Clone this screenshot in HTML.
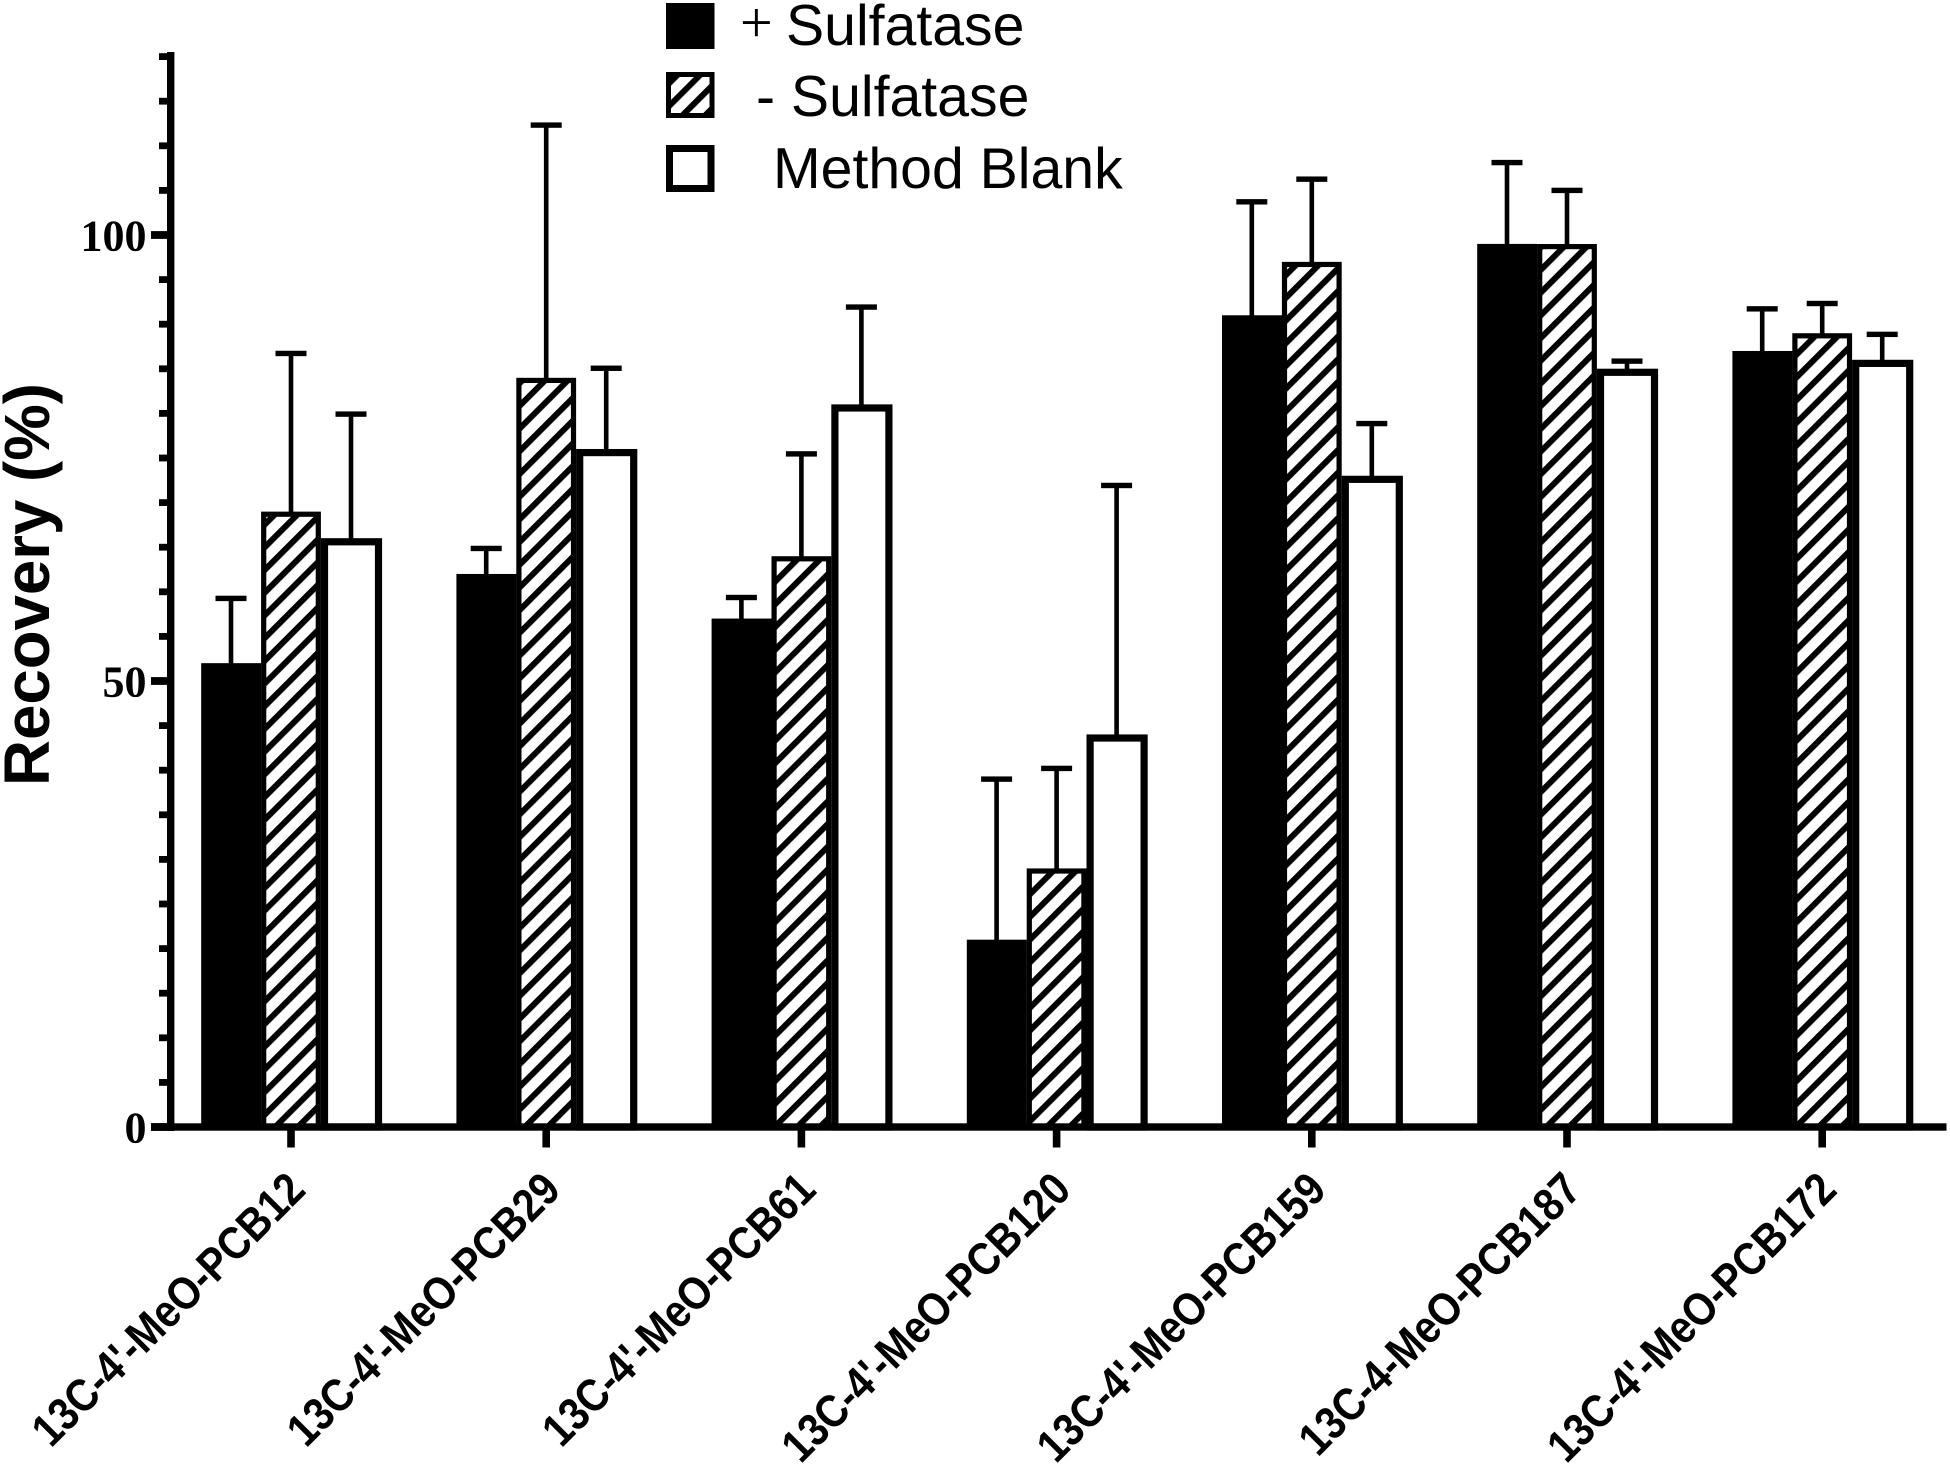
<!DOCTYPE html>
<html lang="en">
<head>
<meta charset="utf-8">
<title>Recovery chart</title>
<style>
html,body{margin:0;padding:0;background:#fff;width:1950px;height:1467px;overflow:hidden}
svg{display:block}
text{fill:#000}
.sans{font-family:"Liberation Sans",Arial,sans-serif}
.serif{font-family:"Liberation Serif","Times New Roman",serif;font-weight:700}
</style>
</head>
<body>
<svg id="chart" xmlns="http://www.w3.org/2000/svg" width="1950" height="1467" viewBox="0 0 1950 1467">
  <defs id="defs"></defs>
  <g id="marks"></g>
  <g id="axes"></g>
  <text class="sans" font-size="63.6" font-weight="700" text-anchor="middle" transform="translate(49,584.5) rotate(-90)">Recovery (%)</text>
  <g>
    <rect x="666" y="3" width="48.5" height="46" fill="#000"/>
    <text x="740" y="42" font-size="58" style="font-family:'Liberation Serif',serif">+</text>
    <text class="sans" x="786" y="45" font-size="57.2">Sulfatase</text>
    <rect x="668.5" y="74.5" width="43.5" height="41" fill="url(#legend-hatch)" stroke="#000" stroke-width="5"/>
    <text class="sans" x="756" y="116" font-size="57.2">- Sulfatase</text>
    <rect x="669.5" y="148.5" width="41.5" height="40" fill="#fff" stroke="#000" stroke-width="7"/>
    <text class="sans" x="773" y="188" font-size="57.2">Method Blank</text>
  </g>
</svg>
<script>
const categories = ["13C-4'-MeO-PCB12","13C-4'-MeO-PCB29","13C-4'-MeO-PCB61","13C-4'-MeO-PCB120","13C-4'-MeO-PCB159","13C-4-MeO-PCB187","13C-4'-MeO-PCB172"];
const plusSulfatase = [52, 62, 57, 21, 91, 99, 87];
const plusSulfataseErr = [7.26, 2.86, 2.36, 18, 12.72, 9.12, 4.72];
const minusSulfatase = [69, 84, 64, 29, 97, 99, 89];
const minusSulfataseErr = [17.72, 28.32, 11.46, 11.2, 9.26, 6, 3.32];
const methodBlank = [66, 76, 81, 44, 73, 85, 86];
const methodBlankErr = [13.92, 9.06, 10.92, 27.92, 5.86, 0.86, 2.86];
const yTickLabels = [0, 50, 100];
const yMinorStep = 5;
const yMax = 120;

const NS = 'http://www.w3.org/2000/svg';
const marks = document.getElementById('marks');
const axes = document.getElementById('axes');
const defs = document.getElementById('defs');

function yScale(v){ return 1127 - v * 8.92; }
function xCenter(i){ return 291 + i * 255.2; }

function el(tag, attrs, parent){
  const e = document.createElementNS(NS, tag);
  for (const k in attrs) e.setAttribute(k, attrs[k]);
  parent.appendChild(e);
  return e;
}

function hatchPattern(id, x0, y0){
  const p = el('pattern', {id: id, patternUnits: 'userSpaceOnUse', width: 16.05, height: 16.05,
    patternTransform: 'translate(' + x0 + ',' + y0 + ') rotate(-45)'}, defs);
  el('rect', {x: 0, y: 0, width: 16.05, height: 16.05, fill: '#fff'}, p);
  el('rect', {x: 0, y: 0, width: 16.05, height: 6, fill: '#000'}, p);
}
hatchPattern('legend-hatch', 669.1, 79.1);
hatchPattern('bar-hatch', 263.8, 1111.4);

function errorBar(cx, top, err, name){
  const g = el('g', {}, marks);
  
  
  const yT = yScale(top + err);
  el('rect', {x: cx - 2.3, y: yT, width: 4.6, height: yScale(top) - yT + 2, fill: '#000'}, g);
  el('rect', {x: cx - 15.5, y: yT - 2.7, width: 31, height: 5.4, fill: '#000'}, g);
}

categories.forEach(function(cat, i){
  const c = xCenter(i);
  const xBlack = c - 89.8, xHatch = c - 30, xBlank = c + 30;
  const base = yScale(0);

  errorBar(c - 60, plusSulfatase[i], plusSulfataseErr[i], 'error-bar-plus-sulfatase');
  errorBar(c, minusSulfatase[i], minusSulfataseErr[i], 'error-bar-minus-sulfatase');
  errorBar(c + 60, methodBlank[i], methodBlankErr[i], 'error-bar-method-blank');

  const b1 = el('rect', {x: xBlack, y: yScale(plusSulfatase[i]), width: 60, height: base - yScale(plusSulfatase[i]), fill: '#000'}, marks);
  
  

  const b2 = el('rect', {x: xHatch + 2.7, y: yScale(minusSulfatase[i]) + 2.7, width: 54.6, height: base - yScale(minusSulfatase[i]) - 2.7, fill: 'url(#bar-hatch)', stroke: '#000', 'stroke-width': 5.2}, marks);
  
  

  const b3 = el('rect', {x: xBlank + 3.5, y: yScale(methodBlank[i]) + 3.5, width: 54, height: base - yScale(methodBlank[i]) - 3.5, fill: '#fff', stroke: '#000', 'stroke-width': 7.2}, marks);
  
  

  const tick = el('rect', {x: c - 3.8, y: 1127, width: 7.6, height: 20.5, fill: '#000'}, axes);
  
  

  const t = el('text', {class: 'sans', 'font-size': 46, 'font-weight': 700, 'text-anchor': 'end',
    transform: 'translate(' + (c + 16.5) + ',1192) rotate(-45) scale(0.875,1)'}, axes);
  
  
  t.textContent = cat;
});

const yAxisLine = el('rect', {x: 167, y: 52, width: 7.4, height: 1079, fill: '#000'}, axes);



const xAxisLine = el('rect', {x: 151, y: 1123.3, width: 1795.5, height: 7.4, fill: '#000'}, axes);



for (let v = 0; v <= yMax; v += yMinorStep) {
  if (yTickLabels.indexOf(v) >= 0) continue;
  const m = el('rect', {x: 159, y: yScale(v) - 3.4, width: 10, height: 6.8, fill: '#000'}, axes);
  
  
}
yTickLabels.forEach(function(v){
  const m = el('rect', {x: 151, y: yScale(v) - 3.9, width: 18, height: 7.8, fill: '#000'}, axes);
  
  
  const t = el('text', {class: 'serif', x: 146.5, y: yScale(v) + 15.5, 'font-size': 44, 'text-anchor': 'end'}, axes);
  
  
  t.textContent = v;
});
</script>
</body>
</html>
